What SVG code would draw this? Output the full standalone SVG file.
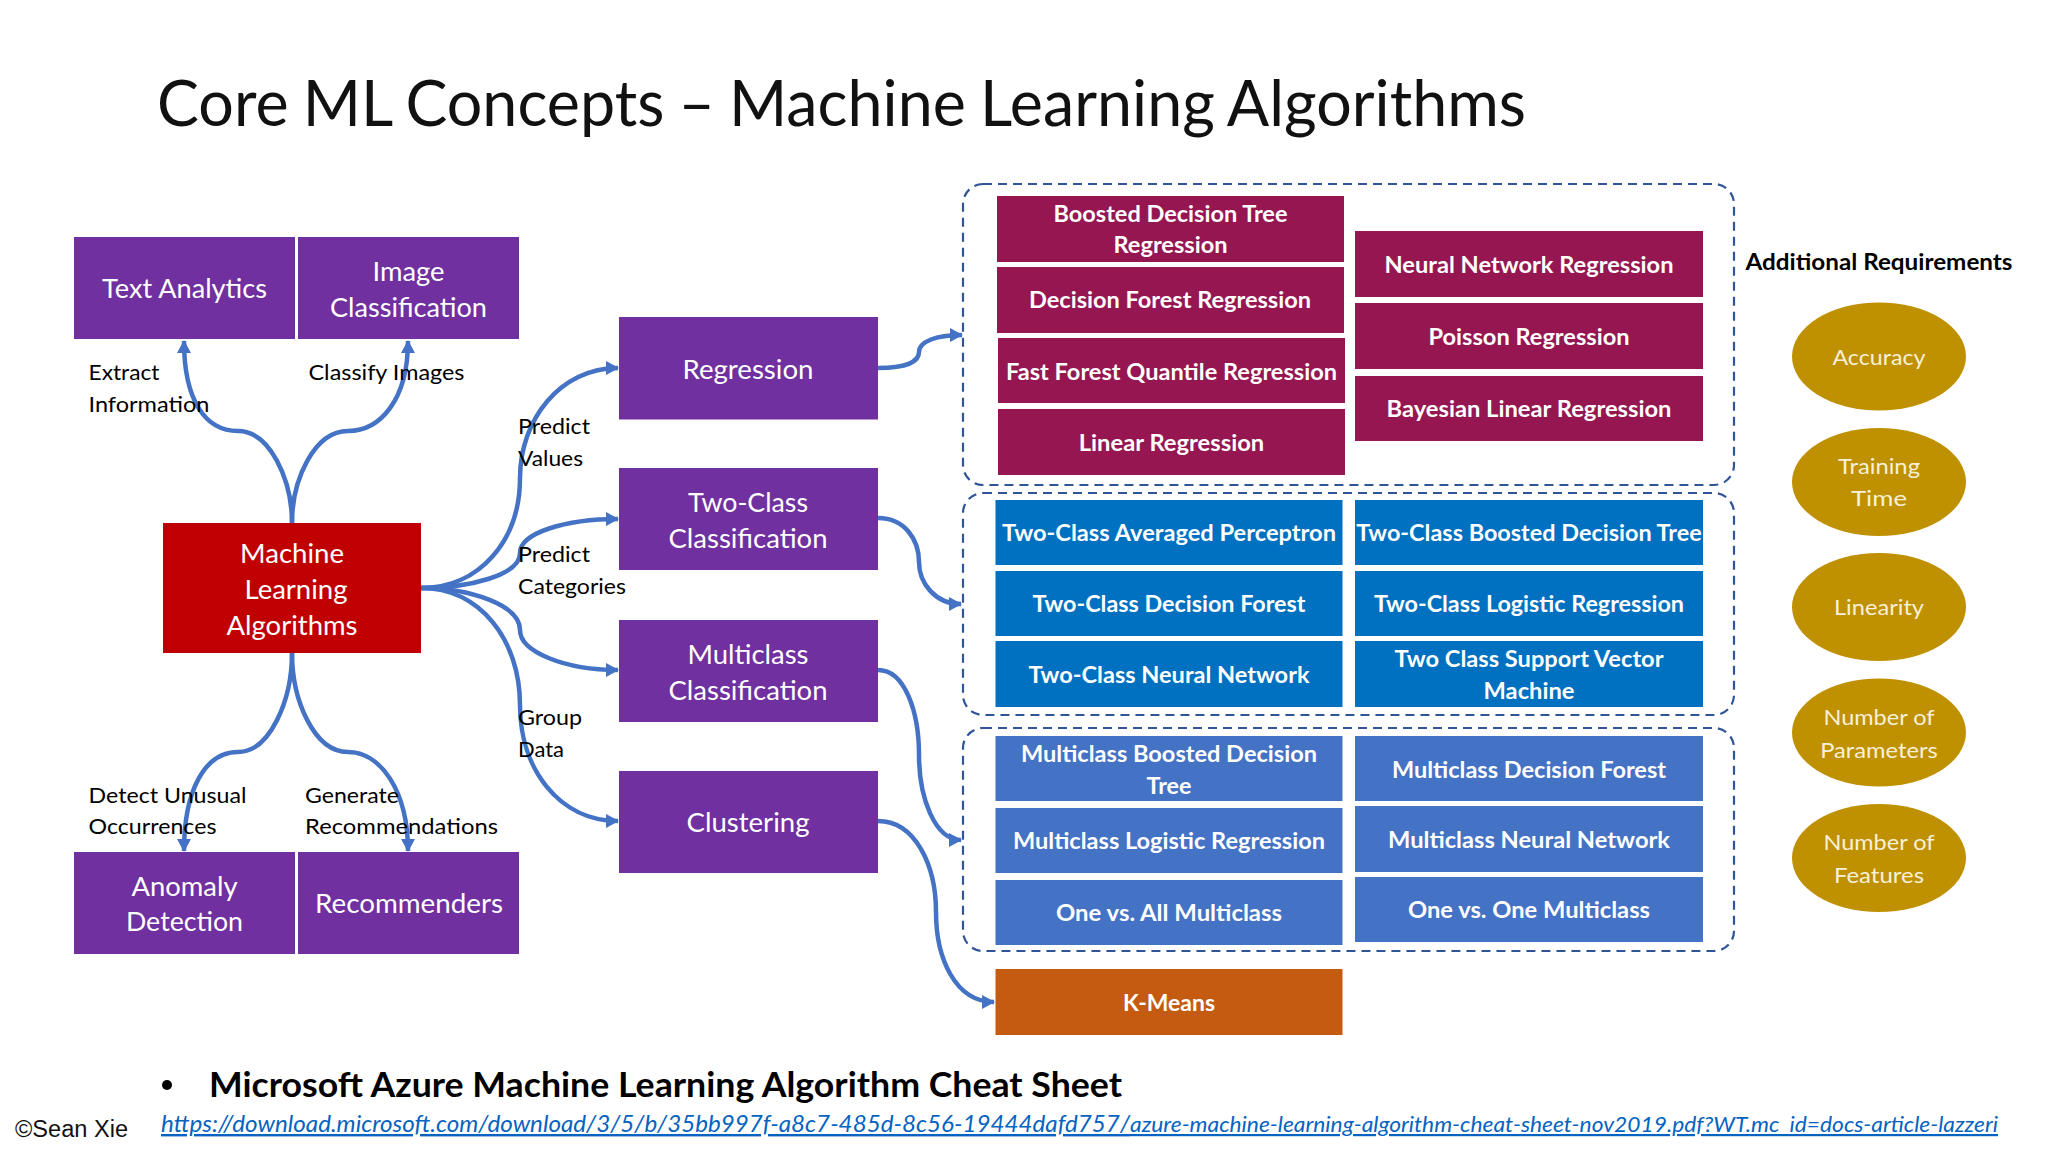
<svg xmlns="http://www.w3.org/2000/svg" width="2048" height="1152" viewBox="0 0 2048 1152">
<style>
text{font-family:"Lato","Carlito","Liberation Sans",sans-serif;text-anchor:middle}
.w{fill:#fff;font-size:27.5px;transform:translateY(.7px)}
.b{fill:#fff;font-size:23.5px;font-weight:700;transform:translateY(.7px)}
.k{fill:#000;font-size:22px;text-anchor:start;transform:translate(-.5px,.5px)}
.g{fill:#f8f0d8;font-size:22px}
.p{fill:#7030a0}.r{fill:#951650}.t{fill:#0070c0}.m{fill:#4472c4}
.d{fill:none;stroke:#2f5597;stroke-width:2.2;stroke-dasharray:9 6}
.c{fill:none;stroke:#4472c4;stroke-width:4.5;marker-end:url(#a)}
.link{fill:#0563c1;font-style:italic;text-anchor:start;text-decoration:underline}
</style>
<defs><marker id="a" markerUnits="userSpaceOnUse" markerWidth="14" markerHeight="14" refX="12" refY="7" orient="auto"><path d="M0 0L13 7L0 14Z" fill="#4472c4"/></marker></defs>
<rect width="2048" height="1152" fill="#fff"/>
<text x="157" y="126" font-size="64" word-spacing="-2" style="text-anchor:start" fill="#111" textLength="1369" lengthAdjust="spacingAndGlyphs">Core ML Concepts – Machine Learning Algorithms</text>

<g id="groups">
<rect class="d" x="963" y="184" width="771" height="301" rx="20"/>
<rect class="d" x="963" y="493" width="771" height="222" rx="20"/>
<rect class="d" x="963" y="728" width="771" height="223" rx="20"/>
</g>

<g id="connectors">
<path class="c" d="M292 523C292 480 270 431 238 431C205 431 184 400 184 341"/>
<path class="c" d="M292 523C292 480 314 431 348 431C380 431 408 400 408 341"/>
<path class="c" d="M292 653C292 700 270 752 238 752C205 752 184 790 184 851"/>
<path class="c" d="M292 653C292 700 314 752 348 752C380 752 408 790 408 851"/>
<path class="c" d="M421 588C480 588 520 540 520 478C520 420 560 368 618 368"/>
<path class="c" d="M421 588C470 588 520 575 520 553C520 533 565 519 618 519"/>
<path class="c" d="M421 588C470 588 520 605 520 630C520 652 565 670 618 670"/>
<path class="c" d="M421 588C480 588 520 640 520 705C520 770 560 821 618 821"/>
<path class="c" d="M878 368C905 368 919 362 919 352C919 342 935 335 962 335"/>
<path class="c" d="M878 518C905 518 919 540 919 562C919 583 935 604 961 604"/>
<path class="c" d="M878 670C905 670 919 712 919 755C919 798 935 840 961 840"/>
<path class="c" d="M878 821C915 821 936 865 936 912C936 958 955 1002 994 1002"/>
</g>

<g id="n-text-analytics"><rect class="p" x="74" y="237" width="221" height="102"/><text class="w" x="184.5" y="297" textLength="165" lengthAdjust="spacingAndGlyphs">Text Analytics</text></g>
<g id="n-image-classification"><rect class="p" x="298" y="237" width="221" height="102"/><text class="w" x="408.5" y="280" textLength="72" lengthAdjust="spacingAndGlyphs">Image</text><text class="w" x="408.5" y="316" textLength="157" lengthAdjust="spacingAndGlyphs">Classification</text></g>
<g id="n-ml"><rect x="163" y="523" width="258" height="130" fill="#c00000"/><text class="w" x="292" y="562" textLength="104" lengthAdjust="spacingAndGlyphs">Machine</text><text class="w" x="296" y="598" textLength="103" lengthAdjust="spacingAndGlyphs">Learning</text><text class="w" x="292" y="634" textLength="131" lengthAdjust="spacingAndGlyphs">Algorithms</text></g>
<g id="n-anomaly"><rect class="p" x="74" y="852" width="221" height="102"/><text class="w" x="184.5" y="895" textLength="106" lengthAdjust="spacingAndGlyphs">Anomaly</text><text class="w" x="184.5" y="930" textLength="117" lengthAdjust="spacingAndGlyphs">Detection</text></g>
<g id="n-recommenders"><rect class="p" x="298" y="852" width="221" height="102"/><text class="w" x="409" y="912" textLength="188" lengthAdjust="spacingAndGlyphs">Recommenders</text></g>
<g id="n-regression"><rect class="p" x="619" y="317" width="259" height="102.500"/><text class="w" x="748" y="378" textLength="131" lengthAdjust="spacingAndGlyphs">Regression</text></g>
<g id="n-twoclass"><rect class="p" x="619" y="468" width="259" height="102"/><text class="w" x="748" y="511" textLength="120" lengthAdjust="spacingAndGlyphs">Two-Class</text><text class="w" x="748" y="547" textLength="159" lengthAdjust="spacingAndGlyphs">Classification</text></g>
<g id="n-multiclass"><rect class="p" x="619" y="620" width="259" height="102"/><text class="w" x="748" y="663" textLength="121" lengthAdjust="spacingAndGlyphs">Multiclass</text><text class="w" x="748" y="699" textLength="159" lengthAdjust="spacingAndGlyphs">Classification</text></g>
<g id="n-clustering"><rect class="p" x="619" y="771" width="259" height="102"/><text class="w" x="748" y="831" textLength="123" lengthAdjust="spacingAndGlyphs">Clustering</text></g>

<g id="labels">
<text class="k" x="89" y="379" textLength="71" lengthAdjust="spacingAndGlyphs">Extract</text>
<text class="k" x="89" y="411" textLength="121" lengthAdjust="spacingAndGlyphs">Information</text>
<text class="k" x="309" y="379" textLength="156" lengthAdjust="spacingAndGlyphs">Classify Images</text>
<text class="k" x="518.5" y="433" textLength="72" lengthAdjust="spacingAndGlyphs">Predict</text>
<text class="k" x="518.5" y="465" textLength="65" lengthAdjust="spacingAndGlyphs">Values</text>
<text class="k" x="518.5" y="561" textLength="72" lengthAdjust="spacingAndGlyphs">Predict</text>
<text class="k" x="518.5" y="593" textLength="108" lengthAdjust="spacingAndGlyphs">Categories</text>
<text class="k" x="518.5" y="724" textLength="64" lengthAdjust="spacingAndGlyphs">Group</text>
<text class="k" x="518.5" y="756" textLength="46" lengthAdjust="spacingAndGlyphs">Data</text>
<text class="k" x="89" y="802" textLength="158" lengthAdjust="spacingAndGlyphs">Detect Unusual</text>
<text class="k" x="89" y="833" textLength="128" lengthAdjust="spacingAndGlyphs">Occurrences</text>
<text class="k" x="305.500" y="802" textLength="94" lengthAdjust="spacingAndGlyphs">Generate</text>
<text class="k" x="305.500" y="833" textLength="193" lengthAdjust="spacingAndGlyphs">Recommendations</text>
</g>

<g id="n-boosted-reg"><rect class="r" x="997" y="196" width="347" height="66"/><text class="b" x="1170.5" y="221.500" textLength="234" lengthAdjust="spacingAndGlyphs">Boosted Decision Tree</text><text class="b" x="1170.5" y="252.500" textLength="114" lengthAdjust="spacingAndGlyphs">Regression</text></g>
<g id="n-forest-reg"><rect class="r" x="997" y="267" width="347" height="66"/><text class="b" x="1170" y="307.5" textLength="282" lengthAdjust="spacingAndGlyphs">Decision Forest Regression</text></g>
<g id="n-quantile"><rect class="r" x="998" y="338" width="347" height="65"/><text class="b" x="1171.5" y="379" textLength="331" lengthAdjust="spacingAndGlyphs">Fast Forest Quantile Regression</text></g>
<g id="n-linear"><rect class="r" x="998" y="409" width="347" height="66"/><text class="b" x="1171.5" y="450" textLength="185.5" lengthAdjust="spacingAndGlyphs">Linear Regression</text></g>
<g id="n-nn-reg"><rect class="r" x="1355" y="231" width="348" height="66"/><text class="b" x="1529" y="272" textLength="289" lengthAdjust="spacingAndGlyphs">Neural Network Regression</text></g>
<g id="n-poisson"><rect class="r" x="1355" y="303" width="348" height="66"/><text class="b" x="1529" y="344" textLength="201" lengthAdjust="spacingAndGlyphs">Poisson Regression</text></g>
<g id="n-bayes"><rect class="r" x="1355" y="376" width="348" height="65"/><text class="b" x="1529" y="416" textLength="285" lengthAdjust="spacingAndGlyphs">Bayesian Linear Regression</text></g>

<g id="n-tc-perceptron"><rect class="t" x="995.5" y="500" width="347" height="65"/><text class="b" x="1169" y="540" textLength="334" lengthAdjust="spacingAndGlyphs">Two-Class Averaged Perceptron</text></g>
<g id="n-tc-forest"><rect class="t" x="995.5" y="571" width="347" height="65"/><text class="b" x="1169" y="611" textLength="273" lengthAdjust="spacingAndGlyphs">Two-Class Decision Forest</text></g>
<g id="n-tc-nn"><rect class="t" x="995.5" y="641" width="347" height="66"/><text class="b" x="1169" y="682" textLength="281" lengthAdjust="spacingAndGlyphs">Two-Class Neural Network</text></g>
<g id="n-tc-boosted"><rect class="t" x="1355" y="500" width="348" height="65"/><text class="b" x="1529" y="540" textLength="345.5" lengthAdjust="spacingAndGlyphs">Two-Class Boosted Decision Tree</text></g>
<g id="n-tc-logistic"><rect class="t" x="1355" y="571" width="348" height="65"/><text class="b" x="1529" y="611" textLength="310" lengthAdjust="spacingAndGlyphs">Two-Class Logistic Regression</text></g>
<g id="n-tc-svm"><rect class="t" x="1355" y="641" width="348" height="66"/><text class="b" x="1529" y="666" textLength="269" lengthAdjust="spacingAndGlyphs">Two Class Support Vector</text><text class="b" x="1529" y="698.5" textLength="91" lengthAdjust="spacingAndGlyphs">Machine</text></g>

<g id="n-mc-boosted"><rect class="m" x="995.5" y="736" width="347" height="65"/><text class="b" x="1169" y="761" textLength="296" lengthAdjust="spacingAndGlyphs">Multiclass Boosted Decision</text><text class="b" x="1169" y="793" textLength="45" lengthAdjust="spacingAndGlyphs">Tree</text></g>
<g id="n-mc-logistic"><rect class="m" x="995.5" y="808" width="347" height="65"/><text class="b" x="1169" y="848" textLength="312" lengthAdjust="spacingAndGlyphs">Multiclass Logistic Regression</text></g>
<g id="n-mc-ova"><rect class="m" x="995.5" y="880" width="347" height="65"/><text class="b" x="1169" y="920" textLength="226" lengthAdjust="spacingAndGlyphs">One vs. All Multiclass</text></g>
<g id="n-mc-forest"><rect class="m" x="1355" y="736" width="348" height="65"/><text class="b" x="1529" y="777" textLength="274" lengthAdjust="spacingAndGlyphs">Multiclass Decision Forest</text></g>
<g id="n-mc-nn"><rect class="m" x="1355" y="806" width="348" height="66"/><text class="b" x="1529" y="847" textLength="282" lengthAdjust="spacingAndGlyphs">Multiclass Neural Network</text></g>
<g id="n-mc-ovo"><rect class="m" x="1355" y="877" width="348" height="65"/><text class="b" x="1529" y="917" textLength="242" lengthAdjust="spacingAndGlyphs">One vs. One Multiclass</text></g>
<g id="n-kmeans"><rect x="995.5" y="969" width="347" height="66" fill="#c55a11"/><text class="b" x="1169" y="1010" textLength="92" lengthAdjust="spacingAndGlyphs">K-Means</text></g>

<text x="1879" y="270" font-size="23.5" font-weight="700" fill="#000" textLength="267" lengthAdjust="spacingAndGlyphs">Additional Requirements</text>
<g id="n-accuracy"><ellipse cx="1879" cy="356.5" rx="87" ry="54" fill="#bf9000"/><text class="g" x="1879" y="365" textLength="93" lengthAdjust="spacingAndGlyphs">Accuracy</text></g>
<g id="n-training"><ellipse cx="1879" cy="482" rx="87" ry="54" fill="#bf9000"/><text class="g" x="1879" y="474" textLength="82" lengthAdjust="spacingAndGlyphs">Training</text><text class="g" x="1879" y="506" textLength="56" lengthAdjust="spacingAndGlyphs">Time</text></g>
<g id="n-linearity"><ellipse cx="1879" cy="607" rx="87" ry="54" fill="#bf9000"/><text class="g" x="1879" y="615" textLength="90" lengthAdjust="spacingAndGlyphs">Linearity</text></g>
<g id="n-params"><ellipse cx="1879" cy="732.5" rx="87" ry="54" fill="#bf9000"/><text class="g" x="1879" y="725" textLength="111" lengthAdjust="spacingAndGlyphs">Number of</text><text class="g" x="1879" y="758" textLength="117.5" lengthAdjust="spacingAndGlyphs">Parameters</text></g>
<g id="n-features"><ellipse cx="1879" cy="858" rx="87" ry="54" fill="#bf9000"/><text class="g" x="1879" y="850" textLength="111" lengthAdjust="spacingAndGlyphs">Number of</text><text class="g" x="1879" y="883" textLength="90" lengthAdjust="spacingAndGlyphs">Features</text></g>

<circle cx="167" cy="1085" r="5" fill="#000"/>
<text x="209" y="1097" font-size="34" font-weight="700" fill="#000" style="text-anchor:start" textLength="913" lengthAdjust="spacingAndGlyphs">Microsoft Azure Machine Learning Algorithm Cheat Sheet</text>
<text class="link" x="161" y="1132" font-size="24" textLength="969" lengthAdjust="spacingAndGlyphs">https://download.microsoft.com/download/3/5/b/35bb997f-a8c7-485d-8c56-19444dafd757/</text>
<text class="link" x="1130" y="1132" font-size="22" textLength="868" lengthAdjust="spacingAndGlyphs">azure-machine-learning-algorithm-cheat-sheet-nov2019.pdf?WT.mc_id=docs-article-lazzeri</text>
<text x="15" y="1137" font-size="23" fill="#111" style="text-anchor:start;font-family:'Liberation Sans',sans-serif" textLength="113" lengthAdjust="spacingAndGlyphs">©Sean Xie</text>
</svg>
